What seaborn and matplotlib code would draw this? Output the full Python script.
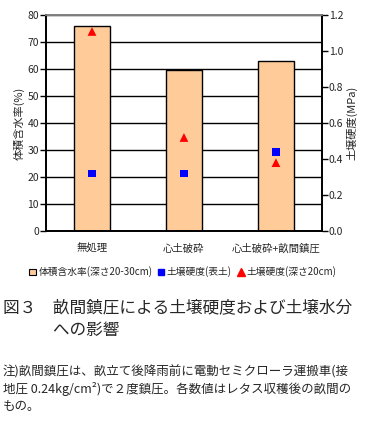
import pandas as pd
import matplotlib.pyplot as plt
import seaborn as sns
from matplotlib.lines import Line2D
from matplotlib.patches import Patch

categories = ['無処理', '心土破砕', '心土破砕+畝間鎮圧']
water_content = [75.9, 59.6, 63.2]        # 体積含水率(深さ20-30cm) %
hardness_top = [0.32, 0.32, 0.44]         # 土壌硬度(表土) MPa
hardness_20cm = [1.11, 0.52, 0.38]        # 土壌硬度(深さ20cm) MPa

legend_labels = ['体積含水率(深さ20-30cm)', '土壌硬度(表土)', '土壌硬度(深さ20cm)']
caption = '図３　畝間鎮圧による土壌硬度および土壌水分\n　　　への影響'
note = ('注)畝間鎮圧は、畝立て後降雨前に電動セミクローラ運搬車(接\n'
        '地圧 0.24kg/cm²)で２度鎮圧。各数値はレタス収穫後の畝間の\n'
        'もの。')

sns.set_theme(style='white')
plt.rcParams['font.family'] = ['Noto Sans CJK JP', 'DejaVu Sans']

df = pd.DataFrame({'cat': categories, 'water': water_content,
                   'top': hardness_top, 'deep': hardness_20cm})

fig = plt.figure(figsize=(3.65, 4.23), dpi=100)
ax = fig.add_axes([0.126, 0.454, 0.756, 0.51])

sns.barplot(data=df, x='cat', y='water', ax=ax, color='#FFCC99',
            edgecolor='black', linewidth=1, width=0.4, saturation=1, zorder=2)
ax.set_ylim(0, 80)
ax.set_yticks(range(0, 81, 10))
ax.set_xlim(-0.5, 2.5)
ax.grid(axis='y', color='black', linewidth=1, zorder=0)
ax.set_axisbelow(True)
ax.set_xlabel('')
ax.set_ylabel('体積含水率(%)', fontsize=8, labelpad=2)
ax.tick_params(axis='x', length=0, labelsize=7.5, pad=9)
ax.set_xticks([0.5, 1.5], minor=True)
ax.tick_params(axis='x', which='minor', direction='in', length=3, color='black')
ax.tick_params(axis='y', direction='out', length=4, width=1, color='black', labelsize=7.5, pad=1)
for s in ['left', 'bottom', 'right']:
    ax.spines[s].set_color('black')
ax.spines['top'].set_color('gray')

ax2 = ax.twinx()
sns.scatterplot(data=df, x='cat', y='top', ax=ax2, marker='s', color='#0000FF',
                s=30, edgecolor='none', zorder=5)
sns.scatterplot(data=df, x='cat', y='deep', ax=ax2, marker='^', color='#FF0000',
                s=40, edgecolor='none', zorder=5)
ax2.set_ylim(0, 1.2)
ax2.set_yticks([0, 0.2, 0.4, 0.6, 0.8, 1.0, 1.2])
ax2.set_yticklabels([f'{v:.1f}' for v in [0, 0.2, 0.4, 0.6, 0.8, 1.0, 1.2]])
ax2.set_ylabel('土壌硬度(MPa)', fontsize=8, rotation=90, labelpad=2)
ax2.tick_params(axis='y', direction='out', length=4, width=1, color='black', labelsize=7.5, pad=1)
ax2.grid(False)
ax2.set_xlabel('')
for s in ['left', 'bottom', 'right']:
    ax2.spines[s].set_color('black')
ax2.spines['top'].set_color('gray')

handles = [Patch(facecolor='#FFCC99', edgecolor='black', linewidth=0.8),
           Line2D([], [], marker='s', color='#0000FF', linestyle='none', markersize=5),
           Line2D([], [], marker='^', color='#FF0000', linestyle='none', markersize=6)]
fig.legend(handles, legend_labels, loc='center', bbox_to_anchor=(0.5, 1 - 272 / 423),
           ncol=3, frameon=False, fontsize=7, handlelength=0.8, handletextpad=0.2,
           columnspacing=0.5, borderaxespad=0)

fig.text(0.008, 1 - 299 / 423, caption, fontsize=12, va='top', ha='left', linespacing=1.45)
fig.text(0.008, 1 - 365 / 423, note, fontsize=9, va='top', ha='left', linespacing=1.35)

fig.savefig('out.png', dpi=100)
